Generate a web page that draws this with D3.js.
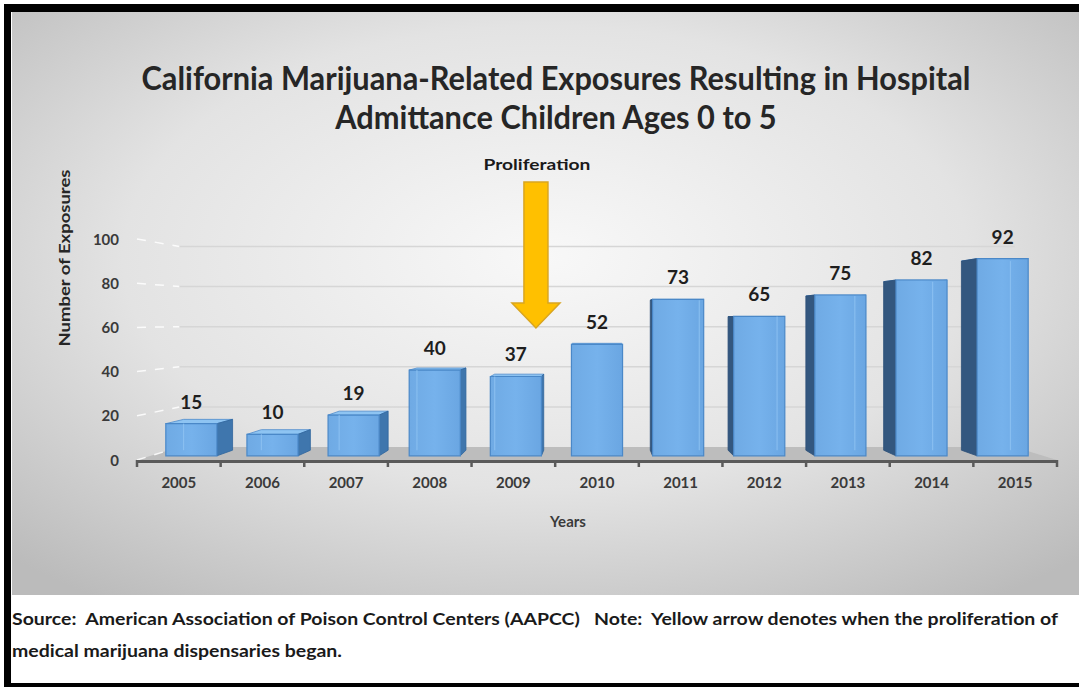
<!DOCTYPE html>
<html>
<head>
<meta charset="utf-8">
<script src="https://cdn.jsdelivr.net/npm/d3@7"></script>
<style>
  html, body { margin: 0; padding: 0; background: #ffffff; }
  svg { display: block; }
  text { font-family: Lato, "Open Sans", sans-serif; white-space: pre; }
</style>
</head>
<body>
<svg id="chart" width="1079" height="687"></svg>
<script>
// ---- data ----
const years = ["2005", "2006", "2007", "2008", "2009", "2010", "2011", "2012", "2013", "2014", "2015"];
const exposures = [15, 10, 19, 40, 37, 52, 73, 65, 75, 82, 92];
const yTicks = [0, 20, 40, 60, 80, 100];
const titleLines = ["California Marijuana-Related Exposures Resulting in Hospital", "Admittance Children Ages 0 to 5"];
const yTitle = "Number of Exposures";
const xTitle = "Years";
const arrowLabel = "Proliferation";
const arrowYear = "2009";
const footerLines = [
  "Source:  American Association of Poison Control Centers (AAPCC)   Note:  Yellow arrow denotes when the proliferation of",
  "medical marijuana dispensaries began."
];

const svg = d3.select("#chart");
const W = 1079, H = 687;

// ---- frame ----
const defs = svg.append("defs");
const bg = defs.append("radialGradient").attr("id", "panelBg")
  .attr("cx", "50%").attr("cy", "42%").attr("r", "72%");
bg.append("stop").attr("offset", "0%").attr("stop-color", "#f8f8f8");
bg.append("stop").attr("offset", "55%").attr("stop-color", "#e3e3e3");
bg.append("stop").attr("offset", "100%").attr("stop-color", "#bbbbbb");

const frontGrad = defs.append("linearGradient").attr("id", "barFront")
  .attr("x1", "0%").attr("x2", "100%").attr("y1", "0%").attr("y2", "0%");
frontGrad.append("stop").attr("offset", "0%").attr("stop-color", "#6faae4");
frontGrad.append("stop").attr("offset", "50%").attr("stop-color", "#76b2ec");
frontGrad.append("stop").attr("offset", "100%").attr("stop-color", "#6aa6e2");

svg.append("rect").attr("x", 0).attr("y", 0).attr("width", W).attr("height", H).attr("fill", "#ffffff");
// black frame strips
svg.append("rect").attr("x", 4).attr("y", 4).attr("width", W - 4).attr("height", 8).attr("fill", "#000");
svg.append("rect").attr("x", 4).attr("y", 4).attr("width", 7).attr("height", H - 4).attr("fill", "#000");
svg.append("rect").attr("x", 4).attr("y", 683).attr("width", W - 4).attr("height", 4).attr("fill", "#000");
// grey chart panel
svg.append("rect").attr("x", 12).attr("y", 12).attr("width", W - 12).attr("height", 583).attr("fill", "url(#panelBg)");

// ---- scales ----
const x = d3.scaleBand().domain(years).range([137, 1057]).padding(0);
const y = d3.scaleLinear().domain([0, 100]).range([460, 239]);

// simple one-point perspective: depth d pulls a front-plane point toward the vanishing point
const VP = [(x.range()[0] + x.range()[1]) / 2, 320];
const P = (px, py, d) => [px + (VP[0] - px) * d, py + (VP[1] - py) * d];
const WALL = 0.092, BAR_FRONT = 0.03, BAR_BACK = 0.07;
const line = d3.line();

// ---- floor ----
const x0 = x.range()[0], x1 = x.range()[1];
svg.append("path")
  .attr("d", line([P(x0, y(0), 0), P(x1, y(0), 0), P(x1, y(0), WALL), P(x0, y(0), WALL)]) + "Z")
  .attr("fill", "#bdbdbd");

// ---- gridlines: back wall + side wall ----
const grid = svg.append("g");
yTicks.forEach(v => {
  if (v > 0) {
    grid.append("path")
      .attr("d", line([P(x0, y(v), WALL), P(x1, y(v), WALL)]))
      .attr("stroke", "#d6d6d6").attr("stroke-width", 1.5).attr("fill", "none");
  }
  grid.append("path")
    .attr("d", line([P(x0, y(v), 0), P(x0, y(v), WALL)]))
    .attr("stroke", "#ffffff").attr("stroke-width", 1.5).attr("stroke-dasharray", "9,9")
    .attr("opacity", 0.85).attr("fill", "none");
});

// ---- 3D bars ----
const barW = x.bandwidth() * 0.63;
const bars = svg.append("g");
years.forEach((yr, i) => {
  const v = exposures[i];
  const cx = x(yr) + x.bandwidth() / 2;
  const L = cx - barW / 2, R = cx + barW / 2;
  const fTL = P(L, y(v), BAR_FRONT), fTR = P(R, y(v), BAR_FRONT);
  const fBL = P(L, y(0), BAR_FRONT), fBR = P(R, y(0), BAR_FRONT);
  const bTL = P(L, y(v), BAR_BACK), bTR = P(R, y(v), BAR_BACK);
  const bBL = P(L, y(0), BAR_BACK), bBR = P(R, y(0), BAR_BACK);
  const g = bars.append("g");

  // top face
  g.append("path").attr("d", line([fTL, fTR, bTR, bTL]) + "Z")
    .attr("fill", "#8ec4f2").attr("stroke", "#4f8ccc").attr("stroke-width", 0.8);
  // side face toward the vanishing point
  if (cx < VP[0] - 2) {
    g.append("path").attr("d", line([fTR, bTR, bBR, fBR]) + "Z")
      .attr("fill", "#3f76ad").attr("stroke", "#2f659c").attr("stroke-width", 0.8);
  } else if (cx > VP[0] + 2) {
    g.append("path").attr("d", line([fTL, bTL, bBL, fBL]) + "Z")
      .attr("fill", "#33577f").attr("stroke", "#2c4f77").attr("stroke-width", 0.8);
  }
  // front face
  g.append("path").attr("d", line([fTL, fTR, fBR, fBL]) + "Z")
    .attr("fill", "url(#barFront)").attr("stroke", "#4a88c8").attr("stroke-width", 1.2);
  // faint hidden back edge showing through
  const edgeT = cx < VP[0] ? bTL : bTR, edgeB = cx < VP[0] ? bBL : bBR;
  if (Math.abs(cx - VP[0]) > 2) {
    g.append("path").attr("d", line([[edgeT[0], Math.max(edgeT[1], fTL[1])], [edgeB[0], edgeB[1]]]))
      .attr("stroke", "#92c6f4").attr("stroke-width", 1.2).attr("opacity", 0.7);
  }
  // value label
  g.append("text")
    .attr("x", (fTL[0] + fTR[0]) / 2)
    .attr("y", fTL[1] - 15)
    .attr("text-anchor", "middle")
    .attr("font-size", 19).attr("font-weight", 700).attr("fill", "#1e1e1e")
    .text(v);
});

// ---- x axis ----
const axis = svg.append("g");
axis.append("line").attr("x1", x0).attr("x2", x1).attr("y1", y(0) + 1.5).attr("y2", y(0) + 1.5)
  .attr("stroke", "#5a5a5a").attr("stroke-width", 3);
const bounds = years.map(yr => x(yr)).concat([x1]);
bounds.forEach(b => {
  axis.append("line").attr("x1", b).attr("x2", b).attr("y1", y(0)).attr("y2", y(0) + 7)
    .attr("stroke", "#5a5a5a").attr("stroke-width", 2.5);
});
years.forEach(yr => {
  axis.append("text").attr("x", x(yr) + x.bandwidth() / 2).attr("y", 488)
    .attr("text-anchor", "middle").attr("font-size", 15).attr("font-weight", 700)
    .attr("fill", "#3a3a3a").text(yr);
});

// ---- y tick labels ----
yTicks.forEach(v => {
  svg.append("text").attr("x", 119).attr("y", y(v) + 5.5)
    .attr("text-anchor", "end").attr("font-size", 15).attr("font-weight", 700)
    .attr("fill", "#3a3a3a").text(v);
});

// ---- axis titles ----
const yT = svg.append("text")
  .attr("transform", "translate(70,258) rotate(-90)")
  .attr("text-anchor", "middle").attr("font-size", 16).attr("font-weight", 700)
  .attr("fill", "#262626").text(yTitle);
fitWidth(yT, 177);

svg.append("text").attr("x", 568).attr("y", 527)
  .attr("text-anchor", "middle").attr("font-size", 15).attr("font-weight", 700)
  .attr("fill", "#3a3a3a").text(xTitle);

// ---- title ----
const tSel = titleLines.map((t, i) => svg.append("text")
  .attr("x", 556).attr("y", 90 + i * 39)
  .attr("text-anchor", "middle").attr("font-size", 32).attr("font-weight", 700)
  .attr("fill", "#262626").text(t));
const tf = fitWidth(tSel[0], 829);
fitScale(tSel[1], tf);

// ---- annotation arrow ----
const ax = x(arrowYear) + x.bandwidth() * 0.77;
const shaftW = 24, headW = 48, topY = 182, headY = 303, tipY = 328;
svg.append("path")
  .attr("d", line([
    [ax - shaftW / 2, topY], [ax + shaftW / 2, topY], [ax + shaftW / 2, headY],
    [ax + headW / 2, headY], [ax, tipY], [ax - headW / 2, headY], [ax - shaftW / 2, headY]
  ]) + "Z")
  .attr("fill", "#ffc000").attr("stroke", "#d9a520").attr("stroke-width", 1.5);
const pl = svg.append("text").attr("x", ax + 1).attr("y", 170)
  .attr("text-anchor", "middle").attr("font-size", 15).attr("font-weight", 700)
  .attr("fill", "#1a1a1a").text(arrowLabel);
fitWidth(pl, 107);

// ---- footer ----
const fSel = footerLines.map((t, i) => svg.append("text")
  .attr("x", 12).attr("y", 625 + i * 32)
  .attr("font-size", 17).attr("font-weight", 700).attr("fill", "#1a1a1a").text(t));
const ff = fitWidth(fSel[0], 1046);
fitScale(fSel[1], ff);

// squeeze text horizontally to a target width; returns the factor used
function fitWidth(sel, target) {
  const w = sel.node().getComputedTextLength();
  sel.attr("textLength", target).attr("lengthAdjust", "spacingAndGlyphs");
  return target / w;
}
function fitScale(sel, f) {
  const w = sel.node().getComputedTextLength();
  sel.attr("textLength", w * f).attr("lengthAdjust", "spacingAndGlyphs");
}
</script>
</body>
</html>
